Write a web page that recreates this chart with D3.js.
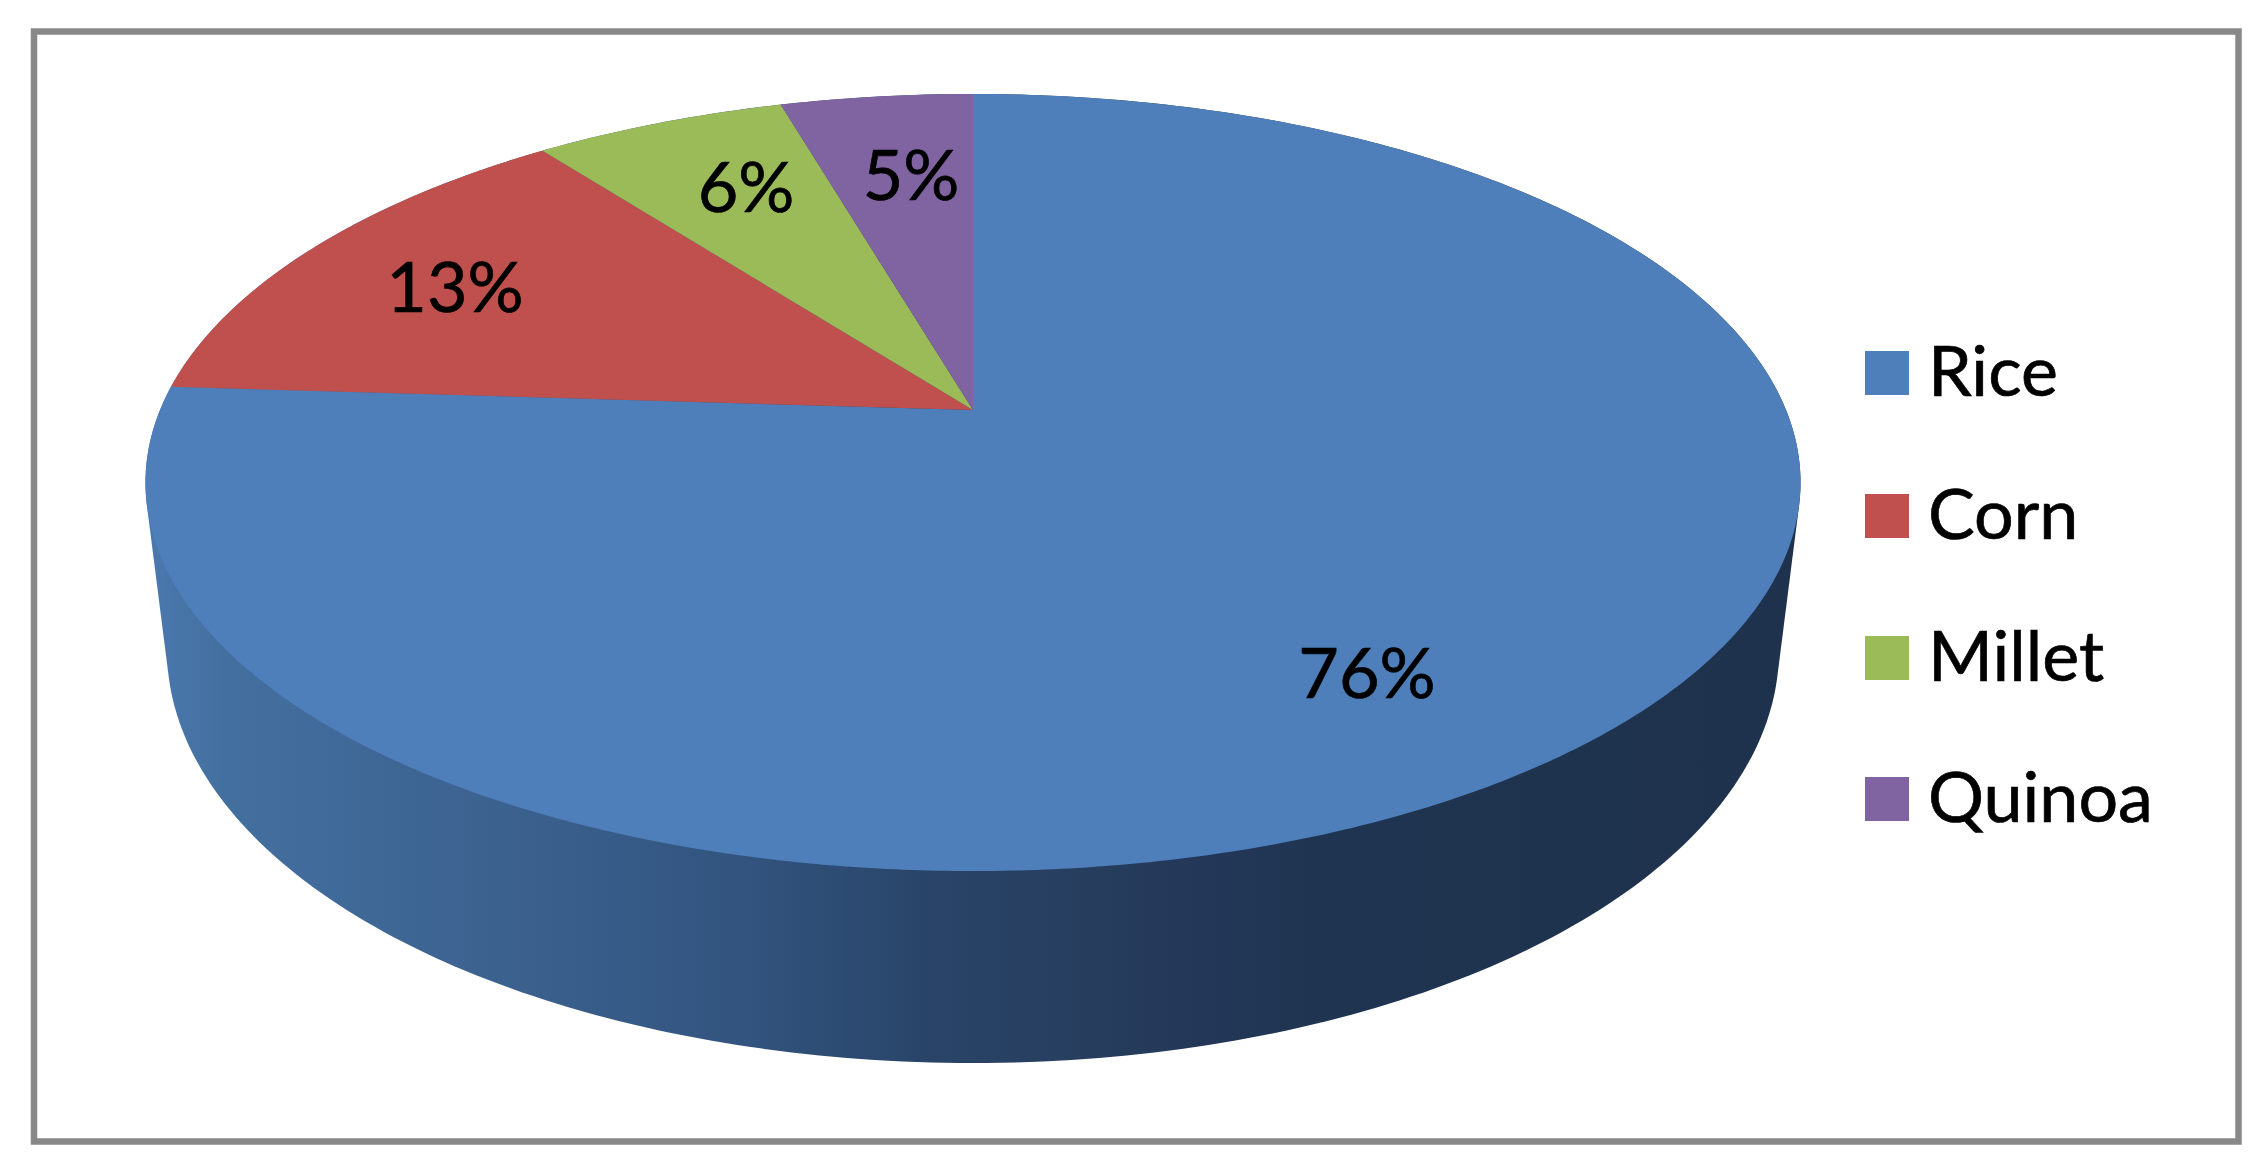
<!DOCTYPE html>
<html><head><meta charset="utf-8">
<style>html,body{margin:0;padding:0;background:#fff;overflow:hidden}svg{display:block}text{font-family:Lato,"Open Sans",sans-serif;fill:#000;stroke:#000;stroke-width:.7px}</style>
<script src="https://cdn.jsdelivr.net/npm/d3@7/dist/d3.min.js"></script>
</head><body>
<script>
// Data
const categories = ["Rice", "Corn", "Millet", "Quinoa"];
const shares = [76.0, 13.6, 5.9, 4.5];
const shareLabels = ["76%", "13%", "6%", "5%"];
const colors = ["#4e7fba", "#c0504d", "#9bbb59", "#8064a2"];

// Layout
const W = 2266, H = 1173;
const apex = {x: 973, y: 410}, persp = -0.1866, ax = 813, ay = 375;
const base = {x: 973, y: 650, rx: 806, ry: 413};
const labelAt = [[1367, 698], [455, 312], [746, 212], [911, 200]];
const legend = {x: 1865, size: 44, tops: [351, 494, 636, 777], textX: 1928, baseOffset: 45};
const fontSize = 70, legendFont = 70;
const sideStops = [[160,"#4a77ac"],[230,"#436f9f"],[546,"#3a5f8c"],[740,"#32547f"],[930,"#294468"],[1056,"#273f60"],[1174,"#24395a"],[1323,"#1f3450"],[1800,"#1e324d"]];

const svg = d3.select("body").append("svg").attr("width", W).attr("height", H);
svg.append("rect").attr("width", W).attr("height", H).attr("fill", "#fff");
svg.append("rect").attr("x", 34).attr("y", 31.5).attr("width", 2204.5).attr("height", 1110)
  .attr("fill", "#fff").attr("stroke", "#888").attr("stroke-width", 6.5);

const xs = d3.scaleLinear().domain([-1, 1]).range([apex.x - ax, apex.x + ax]);
const ys = d3.scaleLinear().domain([-1, 1]).range([apex.y - ay, apex.y + ay]);
// clockwise angle from 12 o'clock on the disc -> projected point
const project = (t, r = 1) => {
  const u = r * Math.sin(t), v = -r * Math.cos(t), w = 1 + persp * v;
  return [xs(u / w), ys(v / w)];
};

const ring = d3.range(0, 360).map(d => d * Math.PI / 180);
const rimBottom = ring.map(t => [base.x + base.rx * Math.sin(t), base.y - base.ry * Math.cos(t)]);
const hull = d3.polygonHull(ring.map(t => project(t)).concat(rimBottom));

const grad = svg.append("defs").append("linearGradient").attr("id", "side")
  .attr("gradientUnits", "userSpaceOnUse").attr("x1", 160).attr("x2", 1800).attr("y1", 0).attr("y2", 0);
grad.selectAll("stop").data(sideStops).join("stop")
  .attr("offset", d => (d[0] - 160) / 1640).attr("stop-color", d => d[1]);

svg.append("path").attr("d", "M" + hull.join("L") + "Z").attr("fill", "url(#side)");

const pie = d3.pie().sort(null).value(d => d)(shares);
const line = d3.line();
svg.selectAll("path.slice").data(pie).join("path").attr("class", "slice")
  .attr("fill", (d, i) => colors[i])
  .attr("d", d => {
    const n = Math.max(2, Math.ceil((d.endAngle - d.startAngle) * 120));
    const pts = d3.range(n + 1).map(i => project(d.startAngle + (d.endAngle - d.startAngle) * i / n));
    return line([project(0, 0), ...pts]) + "Z";
  });

svg.selectAll("text.pct").data(shareLabels).join("text").attr("class", "pct")
  .attr("x", (d, i) => labelAt[i][0]).attr("y", (d, i) => labelAt[i][1])
  .attr("text-anchor", "middle").attr("font-size", fontSize).text(d => d);

const lg = svg.selectAll("g.lg").data(categories).join("g").attr("class", "lg");
lg.append("rect").attr("x", legend.x).attr("y", (d, i) => legend.tops[i])
  .attr("width", legend.size).attr("height", legend.size).attr("fill", (d, i) => colors[i]).attr("stroke", "none");
lg.append("text").attr("x", legend.textX).attr("y", (d, i) => legend.tops[i] + legend.baseOffset)
  .attr("font-size", legendFont).text(d => d);
</script>
</body></html>
